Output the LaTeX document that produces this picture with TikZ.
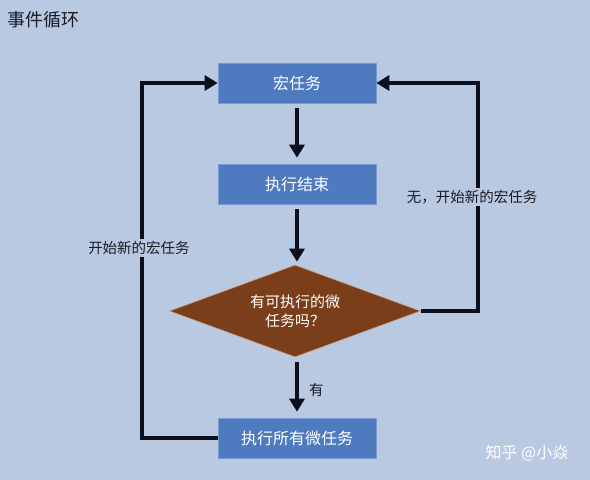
\documentclass[tikz,border=0pt]{standalone}
\usepackage{fontspec}
\setmainfont{Noto Sans CJK SC}
\usetikzlibrary{arrows.meta,shapes.geometric}
\definecolor{bgc}{HTML}{B9C9E2}
\definecolor{boxc}{HTML}{4E7AC0}
\definecolor{boxe}{HTML}{7A9BD0}
\definecolor{diac}{HTML}{7A3E1A}
\definecolor{diae}{HTML}{C8A080}
\definecolor{linec}{HTML}{0D0F1C}
\definecolor{txtc}{HTML}{1A1A22}
\tikzset{
  x=1pt, y=-1pt,
  box/.style={draw=boxe, line width=0.6pt, fill=boxc, minimum width=158pt, minimum height=40pt, inner sep=0pt, text=white, font=\fontsize{16}{18}\selectfont},
  dia/.style={diamond, aspect=2.73, draw=diae, line width=0.6pt, fill=diac, minimum width=251pt, minimum height=92pt, inner sep=0pt, text=white, font=\fontsize{15}{19}\selectfont, align=center},
  conn/.style={draw=linec, line width=4pt},
  arr/.style={conn, -{Triangle[length=13pt,width=15pt]}},
  lbl/.style={text=txtc, font=\fontsize{14.5}{17}\selectfont, inner sep=2pt},
}
\begin{document}
\begin{tikzpicture}
\fill[bgc] (0,0) rectangle (590,480);
\useasboundingbox (0,0) rectangle (590,480);
\node[anchor=west, text=txtc, font=\fontsize{18}{20}\selectfont, inner sep=0pt] (title) at (7,20) {事件循环};
\node[box] (macro) at (297,83) {宏任务};
\node[box] (done) at (297,184) {执行结束};
\node[dia] (q) at (295,311) {有可执行的微\\任务吗？};
\node[box] (micro) at (297,438) {执行所有微任务};
\coordinate (rc) at (478,311);
\coordinate (rt) at (478,83);
\coordinate (lb) at (142,438);
\coordinate (lt) at (142,83);
\draw[arr] ([yshift=-5pt]macro.south) -- ([yshift=6pt]done.north);
\draw[arr] ([yshift=-5pt]done.south) -- ([yshift=3pt]done.south |- q.north);
\draw[arr] ([yshift=-5pt]micro.north |- q.south) -- node[lbl, right, xshift=8pt, yshift=-3pt] (you) {有} ([yshift=6pt]micro.north);
\draw[arr] (q.east) -- (rc) -- (rt) -- (macro.east);
\draw[arr] (micro.west) -- (lb) -- (lt) -- (macro.west);
\node[lbl, fill=bgc] (nolbl) at (472,197) {无，开始新的宏任务};
\node[lbl, fill=bgc] (newlbl) at (139,248) {开始新的宏任务};
\node[text=white, font=\fontsize{16}{18}\selectfont, inner sep=0pt] (wm) at (527,453) {知乎 @小焱};
\end{tikzpicture}
\end{document}
